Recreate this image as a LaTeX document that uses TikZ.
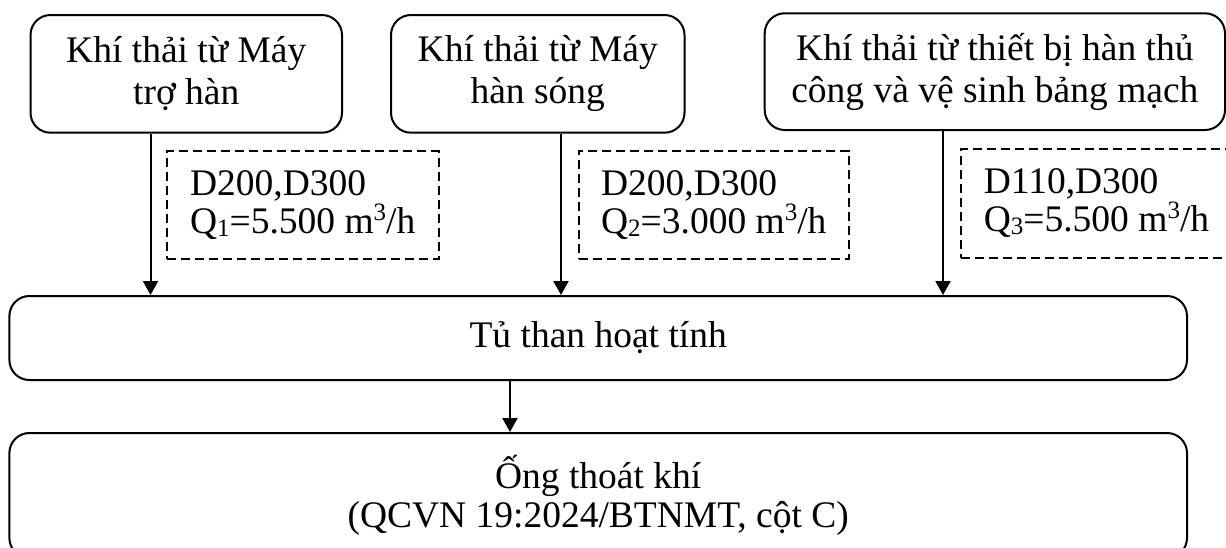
\documentclass[tikz,border=0pt]{standalone}
\usepackage{fontspec}
\setmainfont{Liberation Serif}
\usetikzlibrary{arrows.meta}
\newcommand\qsub[1]{\raisebox{-3pt}{\fontsize{25}{25}\selectfont #1}}
\newcommand\qsup[1]{\raisebox{13pt}{\fontsize{25}{25}\selectfont #1}}
\begin{document}
\begin{tikzpicture}[x=1pt,y=-1pt,
  box/.style={draw, line width=2pt, rounded corners=20pt, align=center, inner sep=0pt,
    font=\fontsize{37.5}{42}\selectfont},
  dbox/.style={draw, line width=2pt, dash pattern=on 9pt off 5pt, align=left, inner sep=0pt,
    font=\fontsize{37.5}{38}\selectfont},
  arr/.style={-{Triangle[width=15pt,length=14pt]}, line width=2pt}]
\useasboundingbox (0,0) rectangle (1226,547);
\fill[white] (0,0) rectangle (1226,547);
% source boxes
\node[box, minimum width=311.5pt, minimum height=117.7pt] (b1) at (186.25,73.85) {Khí thải từ Máy\\trợ hàn};
\node[box, minimum width=293.5pt, minimum height=117.7pt] (b2) at (537.75,73.85) {Khí thải từ Máy\\hàn sóng};
\node[box, minimum width=460.3pt, minimum height=116.7pt] (b3) at (994.85,71.65) {Khí thải từ thiết bị hàn thủ\\công và vệ sinh bảng mạch};
% dashed info boxes
\node[dbox, minimum width=271.5pt, minimum height=108pt] (d1) at (302.75,205) {D200,D300\\Q\qsub{1}=5.500 m\qsup{3}/h};
\node[dbox, minimum width=270.4pt, minimum height=108pt] (d2) at (713.8,205) {D200,D300\\Q\qsub{2}=3.000 m\qsup{3}/h};
\node[dbox, minimum width=271pt, minimum height=109pt] (d3) at (1096.5,203.5) {D110,D300\\Q\qsub{3}=5.500 m\qsup{3}/h};
% treatment box
\node[box, minimum width=1177.6pt, minimum height=84pt] (tu) at (598.2,338) {Tủ than hoạt tính};
% outlet
\node[box, font=\fontsize{37.5}{39}\selectfont, minimum width=1177.6pt, minimum height=125pt] (ong) at (598.2,495.5) {Ống thoát khí\\(QCVN 19:2024/BTNMT, cột C)};
% arrows
\coordinate (x1) at (150.5,0);
\coordinate (x2) at (561,0);
\coordinate (x3) at (943,0);
\coordinate (x4) at (510,0);
\draw[arr] (x1 |- b1.south) -- (x1 |- tu.north);
\draw[arr] (x2 |- b2.south) -- (x2 |- tu.north);
\draw[arr] (x3 |- b3.south) -- (x3 |- tu.north);
\draw[arr] (x4 |- tu.south) -- (x4 |- ong.north);
\end{tikzpicture}
\end{document}
